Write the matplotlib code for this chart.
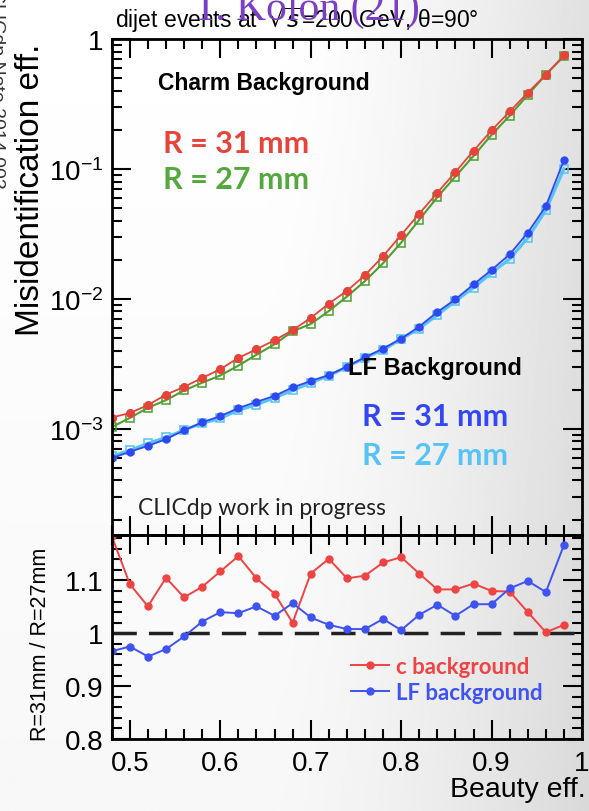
import numpy as np
import matplotlib
matplotlib.use('Agg')
from matplotlib import pyplot as plt
from matplotlib.ticker import FixedLocator, MultipleLocator, LogLocator, NullFormatter

plt.rcParams['font.family'] = ['Liberation Sans', 'DejaVu Sans']
plt.rcParams['mathtext.fontset'] = 'custom'
plt.rcParams['mathtext.rm'] = 'Liberation Sans'
plt.rcParams['mathtext.it'] = 'Liberation Sans:italic'
plt.rcParams['mathtext.bf'] = 'Liberation Sans:bold'

# beauty efficiency working points
beff = [0.48, 0.50, 0.52, 0.54, 0.56, 0.58, 0.60, 0.62, 0.64, 0.66, 0.68, 0.70, 0.72,
        0.74, 0.76, 0.78, 0.80, 0.82, 0.84, 0.86, 0.88, 0.90, 0.92, 0.94, 0.96, 0.98]

# charm mis-id, R = 31 mm and R = 27 mm
c_r31 = [1.22e-3, 1.32e-3, 1.52e-3, 1.83e-3, 2.10e-3, 2.46e-3, 2.87e-3, 3.51e-3, 4.09e-3,
         4.80e-3, 5.73e-3, 7.12e-3, 9.19e-3, 1.15e-2, 1.52e-2, 2.13e-2, 3.10e-2, 4.52e-2,
         6.56e-2, 9.46e-2, 0.138, 0.198, 0.277, 0.386, 0.533, 0.750]
c_r27 = [1.03e-3, 1.21e-3, 1.45e-3, 1.66e-3, 1.97e-3, 2.26e-3, 2.57e-3, 3.06e-3, 3.71e-3,
         4.47e-3, 5.62e-3, 6.40e-3, 8.05e-3, 1.04e-2, 1.37e-2, 1.88e-2, 2.71e-2, 4.06e-2,
         6.06e-2, 8.74e-2, 0.126, 0.183, 0.257, 0.371, 0.532, 0.738]

# light flavour mis-id, R = 31 mm and R = 27 mm
lf_r31 = [5.93e-4, 6.64e-4, 7.38e-4, 8.31e-4, 9.73e-4, 1.12e-3, 1.25e-3, 1.44e-3, 1.61e-3,
          1.79e-3, 2.08e-3, 2.33e-3, 2.59e-3, 3.01e-3, 3.55e-3, 4.14e-3, 4.94e-3, 6.11e-3,
          7.92e-3, 9.91e-3, 1.29e-2, 1.67e-2, 2.20e-2, 3.23e-2, 5.17e-2, 0.117]
lf_r27 = [6.14e-4, 6.81e-4, 7.72e-4, 8.57e-4, 9.79e-4, 1.10e-3, 1.20e-3, 1.39e-3, 1.53e-3,
          1.73e-3, 1.97e-3, 2.26e-3, 2.55e-3, 2.99e-3, 3.52e-3, 4.03e-3, 4.91e-3, 5.90e-3,
          7.51e-3, 9.59e-3, 1.22e-2, 1.58e-2, 2.03e-2, 2.94e-2, 4.80e-2, 0.100]

# ratio R=31mm / R=27mm
ratio_c = [1.184, 1.093, 1.051, 1.105, 1.068, 1.088, 1.117, 1.146, 1.104, 1.075, 1.020, 1.113,
           1.141, 1.104, 1.109, 1.134, 1.144, 1.113, 1.083, 1.083, 1.094, 1.080, 1.079, 1.040,
           1.002, 1.016]
ratio_lf = [0.966, 0.975, 0.956, 0.970, 0.994, 1.022, 1.040, 1.038, 1.051, 1.033, 1.057, 1.030,
            1.016, 1.008, 1.008, 1.027, 1.006, 1.035, 1.054, 1.033, 1.055, 1.055, 1.085, 1.099,
            1.078, 1.167]

top_ticks = [1e-3, 1e-2, 1e-1, 1]
top_labels = [r'$\mathregular{10^{-3}}$', r'$\mathregular{10^{-2}}$', r'$\mathregular{10^{-1}}$', '1']
x_ticks = [0.5, 0.6, 0.7, 0.8, 0.9, 1.0]
x_labels = ['0.5', '0.6', '0.7', '0.8', '0.9', '1']
r_ticks = [0.8, 0.9, 1.0, 1.1]
r_labels = ['0.8', '0.9', '1', '1.1']

RED = '#e8433b'
GREEN = '#4f9e30'
BLUE = '#2f48f2'
CYAN = '#55c3f7'

fig = plt.figure(figsize=(5.89, 8.12), dpi=100)

# slide background, white fading to grey on the right
bg = fig.add_axes([0, 0, 1, 1], zorder=-10)
gx, gy = np.meshgrid(np.linspace(0, 1, 300), np.linspace(0, 1, 300))
shade = 1 - 0.12 * np.clip((gx - 0.45) / 0.55, 0, 1) ** 1.5 - 0.03 * (1 - gy)
bg.imshow(shade, extent=[0, 1, 0, 1], origin='lower', aspect='auto', cmap='gray', vmin=0, vmax=1)
bg.axis('off')

ax = fig.add_axes([0.1897, 0.3399, 0.7985, 0.6108])
axr = fig.add_axes([0.1897, 0.0887, 0.7985, 0.2512], sharex=ax)

for a in (ax, axr):
    a.set_facecolor('none')
    for s in a.spines.values():
        s.set_linewidth(2)
    a.tick_params(which='both', direction='in', top=True, right=True, width=1.5)
    a.tick_params(which='major', length=14, labelsize=20)
    a.tick_params(which='minor', length=7)

# misidentification curves
ax.plot(beff, lf_r27, '-s', color=CYAN, ms=5.5, mfc='none', mew=1.1, lw=2.2)
ax.plot(beff, lf_r31, '-o', color=BLUE, ms=5, lw=1.3)
ax.plot(beff, c_r27, '-s', color=GREEN, ms=6, mfc='none', mew=1.1, lw=1.5)
ax.plot(beff, c_r31, '-o', color=RED, ms=5.5, lw=1.3)

ax.set_yscale('log')
ax.set_ylim(1.52e-4, 1)
ax.set_xlim(0.48, 1.0)
ax.yaxis.set_major_locator(FixedLocator(top_ticks))
ax.set_yticklabels(top_labels)
ax.yaxis.set_minor_locator(LogLocator(base=10, subs=np.arange(2, 10)))
ax.yaxis.set_minor_formatter(NullFormatter())
ax.tick_params(axis='x', labelbottom=False)
ax.tick_params(axis='y', pad=6)

ax.text(0.099, 0.912, 'Charm Background', transform=ax.transAxes, fontsize=16.5,
        fontweight='bold', ha='left', va='center')
ax.text(0.502, 0.337, 'LF Background', transform=ax.transAxes, fontsize=17,
        fontweight='bold', ha='left', va='center')
ax.text(0.108, 0.791, 'R = 31 mm', transform=ax.transAxes, fontsize=22, family='Lato',
        fontweight='bold', color=RED, ha='left', va='center')
ax.text(0.108, 0.718, 'R = 27 mm', transform=ax.transAxes, fontsize=22, family='Lato',
        fontweight='bold', color='#55a83e', ha='left', va='center')
ax.text(0.532, 0.240, 'R = 31 mm', transform=ax.transAxes, fontsize=22, family='Lato',
        fontweight='bold', color='#3346f5', ha='left', va='center')
ax.text(0.532, 0.162, 'R = 27 mm', transform=ax.transAxes, fontsize=22, family='Lato',
        fontweight='bold', color=CYAN, ha='left', va='center')
ax.text(0.055, 0.056, 'CLICdp work in progress', transform=ax.transAxes, fontsize=16.5,
        family='Lato', color='#222222', ha='left', va='center')

# ratio panel
axr.axhline(1.0, color='#222222', lw=2.5, dashes=(7, 3.5))
axr.plot(beff, ratio_c, '-o', color='#f04343', ms=5, lw=1.4, label='c background')
axr.plot(beff, ratio_lf, '-o', color='#3f52f2', ms=5, lw=1.4, label='LF background')
axr.set_ylim(0.8, 1.186)
axr.yaxis.set_major_locator(FixedLocator(r_ticks))
axr.set_yticklabels(r_labels)
axr.yaxis.set_minor_locator(MultipleLocator(0.02))
axr.xaxis.set_major_locator(FixedLocator(x_ticks))
axr.set_xticklabels(x_labels)
axr.xaxis.set_minor_locator(MultipleLocator(0.02))
axr.tick_params(axis='y', pad=6)
axr.tick_params(axis='x', pad=8)

leg = axr.legend(loc='upper left', bbox_to_anchor=(0.49, 0.45), frameon=False,
                 prop={'family': 'Lato', 'weight': 'bold', 'size': 16},
                 handlelength=1.7, handletextpad=0.3, labelspacing=0.2, borderaxespad=0)
for txt, col in zip(leg.get_texts(), ['#f04343', '#3f52f2']):
    txt.set_color(col)

# axis titles
fig.text(0.051, 0.766, 'Misidentification eff.', rotation=90, fontsize=24,
         ha='center', va='center')
fig.text(0.068, 0.207, 'R=31mm / R=27mm', rotation=90, fontsize=15.5,
         ha='center', va='center')
fig.text(0.994, 0.027, 'Beauty eff.', fontsize=20.5, ha='right', va='center')
fig.text(0.196, 0.975, r'dijet events at  $\sqrt{s}$=200 GeV, θ=90°', fontsize=16.5,
         ha='left', va='center', math_fontfamily='dejavusans')

# slide decorations partly cut by the page edge
fig.text(0.52, 0.975, 'T. Kolon (21)', fontsize=30, family='Liberation Serif',
         color='#7b3fc4', ha='center', va='baseline')
fig.text(-0.006, 0.89, 'CLICdp Note 2014 003', rotation=-90, fontsize=14,
         color='#333333', ha='center', va='center')

fig.savefig('out.png', dpi=100)
